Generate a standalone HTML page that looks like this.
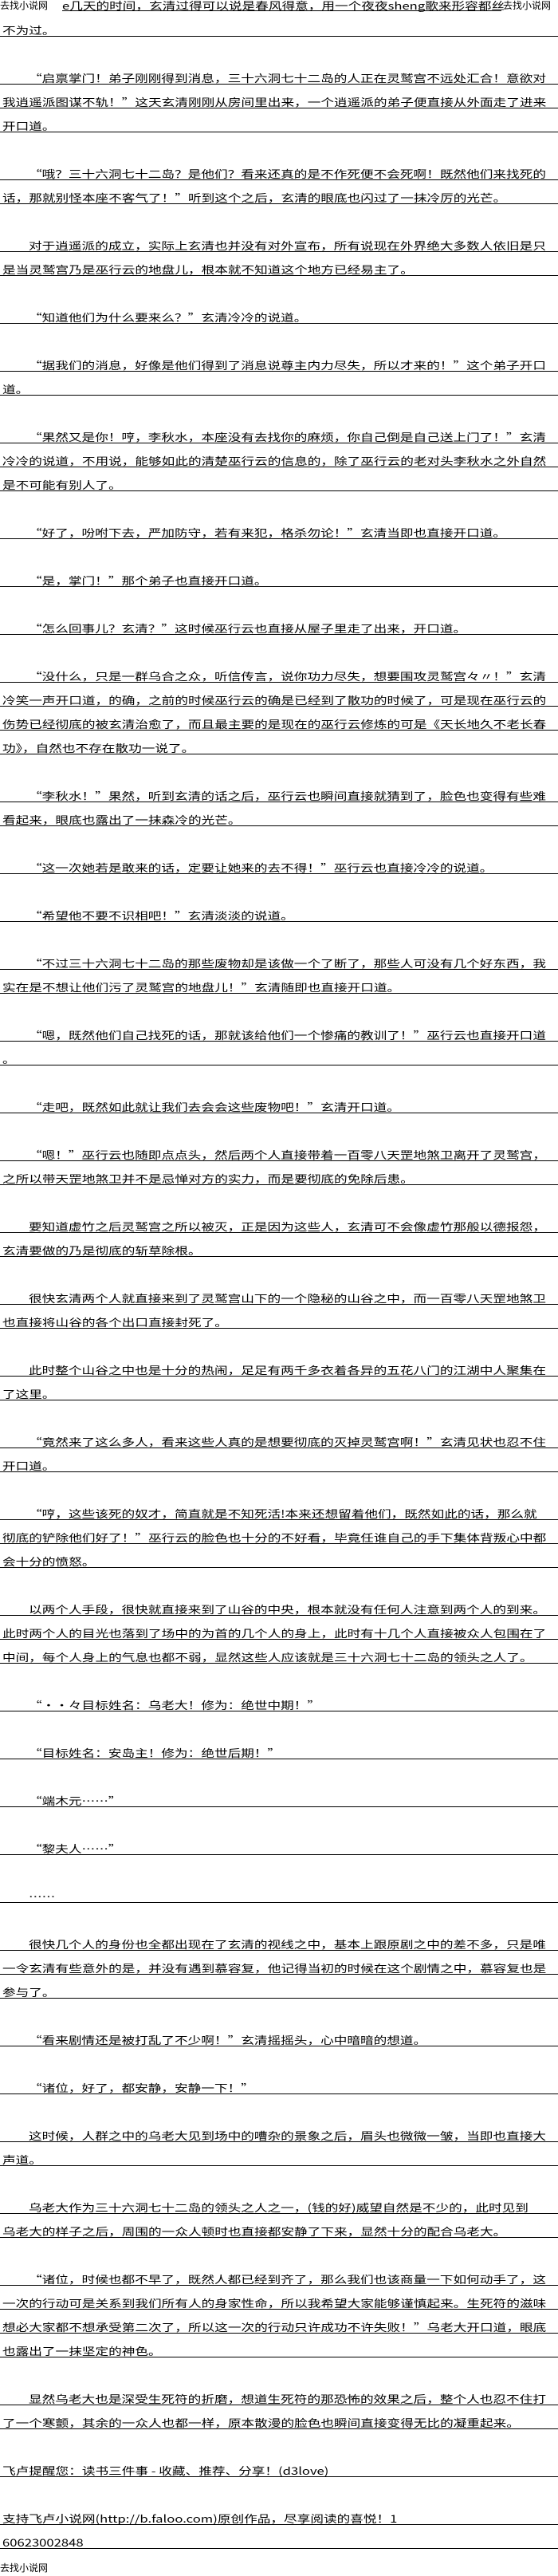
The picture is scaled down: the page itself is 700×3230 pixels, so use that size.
<!DOCTYPE html>
<html><head><meta charset="utf-8">
<style>
html,body{margin:0;padding:0;background:#fff;}
body{width:700px;height:3230px;position:relative;overflow:hidden;font-family:"Noto Sans CJK SC","WenQuanYi Zen Hei",sans-serif;color:#000;}
.r{position:absolute;left:0;width:700px;height:14px;border-bottom:1px solid #000;}
.r span{position:absolute;bottom:1px;left:3px;font-size:13px;line-height:13px;white-space:nowrap;transform:scaleX(1.28);transform-origin:left bottom;}
.r span.i{left:36px;}
.top{position:absolute;top:0;height:15px;font-size:12px;line-height:14px;white-space:nowrap;}
</style></head><body>
<div class="top" style="left:0">去找小说网</div>
<div class="top" style="left:78px;width:551px;border-bottom:1px solid #000;height:13px;"><span style="display:inline-block;font-size:13px;transform:scaleX(1.28);transform-origin:left;">e几天的时间，玄清过得可以说是春风得意，用一个夜夜sheng歌来形容都丝</span></div>
<div class="top" style="left:631px">去找小说网</div>

<div class="r" style="top:31px"><span>不为过。</span></div>
<div class="r" style="top:91px"><span class="i">“启禀掌门！弟子刚刚得到消息，三十六洞七十二岛的人正在灵鹫宫不远处汇合！意欲对</span></div>
<div class="r" style="top:121px"><span>我逍遥派图谋不轨！”这天玄清刚刚从房间里出来，一个逍遥派的弟子便直接从外面走了进来</span></div>
<div class="r" style="top:151px"><span>开口道。</span></div>
<div class="r" style="top:211px"><span class="i">“哦？三十六洞七十二岛？是他们？看来还真的是不作死便不会死啊！既然他们来找死的</span></div>
<div class="r" style="top:241px"><span>话，那就别怪本座不客气了！”听到这个之后，玄清的眼底也闪过了一抹冷厉的光芒。</span></div>
<div class="r" style="top:301px"><span class="i">对于逍遥派的成立，实际上玄清也并没有对外宣布，所有说现在外界绝大多数人依旧是只</span></div>
<div class="r" style="top:331px"><span>是当灵鹫宫乃是巫行云的地盘儿，根本就不知道这个地方已经易主了。</span></div>
<div class="r" style="top:391px"><span class="i">“知道他们为什么要来么？”玄清冷冷的说道。</span></div>
<div class="r" style="top:451px"><span class="i">“据我们的消息，好像是他们得到了消息说尊主内力尽失，所以才来的！”这个弟子开口</span></div>
<div class="r" style="top:481px"><span>道。</span></div>
<div class="r" style="top:541px"><span class="i">“果然又是你！哼，李秋水，本座没有去找你的麻烦，你自己倒是自己送上门了！”玄清</span></div>
<div class="r" style="top:571px"><span>冷冷的说道，不用说，能够如此的清楚巫行云的信息的，除了巫行云的老对头李秋水之外自然</span></div>
<div class="r" style="top:601px"><span>是不可能有别人了。</span></div>
<div class="r" style="top:661px"><span class="i">“好了，吩咐下去，严加防守，若有来犯，格杀勿论！”玄清当即也直接开口道。</span></div>
<div class="r" style="top:721px"><span class="i">“是，掌门！”那个弟子也直接开口道。</span></div>
<div class="r" style="top:781px"><span class="i">“怎么回事儿？玄清？”这时候巫行云也直接从屋子里走了出来，开口道。</span></div>
<div class="r" style="top:841px"><span class="i">“没什么，只是一群乌合之众，听信传言，说你功力尽失，想要围攻灵鹫宫々〃！”玄清</span></div>
<div class="r" style="top:871px"><span>冷笑一声开口道，的确，之前的时候巫行云的确是已经到了散功的时候了，可是现在巫行云的</span></div>
<div class="r" style="top:901px"><span>伤势已经彻底的被玄清治愈了，而且最主要的是现在的巫行云修炼的可是《天长地久不老长春</span></div>
<div class="r" style="top:931px"><span>功》，自然也不存在散功一说了。</span></div>
<div class="r" style="top:991px"><span class="i">“李秋水！”果然，听到玄清的话之后，巫行云也瞬间直接就猜到了，脸色也变得有些难</span></div>
<div class="r" style="top:1021px"><span>看起来，眼底也露出了一抹森冷的光芒。</span></div>
<div class="r" style="top:1081px"><span class="i">“这一次她若是敢来的话，定要让她来的去不得！”巫行云也直接冷冷的说道。</span></div>
<div class="r" style="top:1141px"><span class="i">“希望他不要不识相吧！”玄清淡淡的说道。</span></div>
<div class="r" style="top:1201px"><span class="i">“不过三十六洞七十二岛的那些废物却是该做一个了断了，那些人可没有几个好东西，我</span></div>
<div class="r" style="top:1231px"><span>实在是不想让他们污了灵鹫宫的地盘儿！”玄清随即也直接开口道。</span></div>
<div class="r" style="top:1291px"><span class="i">“嗯，既然他们自己找死的话，那就该给他们一个惨痛的教训了！”巫行云也直接开口道</span></div>
<div class="r" style="top:1321px"><span>。</span></div>
<div class="r" style="top:1381px"><span class="i">“走吧，既然如此就让我们去会会这些废物吧！”玄清开口道。</span></div>
<div class="r" style="top:1441px"><span class="i">“嗯！”巫行云也随即点点头，然后两个人直接带着一百零八天罡地煞卫离开了灵鹫宫，</span></div>
<div class="r" style="top:1471px"><span>之所以带天罡地煞卫并不是忌惮对方的实力，而是要彻底的免除后患。</span></div>
<div class="r" style="top:1531px"><span class="i">要知道虚竹之后灵鹫宫之所以被灭，正是因为这些人，玄清可不会像虚竹那般以德报怨，</span></div>
<div class="r" style="top:1561px"><span>玄清要做的乃是彻底的斩草除根。</span></div>
<div class="r" style="top:1621px"><span class="i">很快玄清两个人就直接来到了灵鹫宫山下的一个隐秘的山谷之中，而一百零八天罡地煞卫</span></div>
<div class="r" style="top:1651px"><span>也直接将山谷的各个出口直接封死了。</span></div>
<div class="r" style="top:1711px"><span class="i">此时整个山谷之中也是十分的热闹，足足有两千多衣着各异的五花八门的江湖中人聚集在</span></div>
<div class="r" style="top:1741px"><span>了这里。</span></div>
<div class="r" style="top:1801px"><span class="i">“竟然来了这么多人，看来这些人真的是想要彻底的灭掉灵鹫宫啊！”玄清见状也忍不住</span></div>
<div class="r" style="top:1831px"><span>开口道。</span></div>
<div class="r" style="top:1891px"><span class="i">“哼，这些该死的奴才，简直就是不知死活!本来还想留着他们，既然如此的话，那么就</span></div>
<div class="r" style="top:1921px"><span>彻底的铲除他们好了！”巫行云的脸色也十分的不好看，毕竟任谁自己的手下集体背叛心中都</span></div>
<div class="r" style="top:1951px"><span>会十分的愤怒。</span></div>
<div class="r" style="top:2011px"><span class="i">以两个人手段，很快就直接来到了山谷的中央，根本就没有任何人注意到两个人的到来。</span></div>
<div class="r" style="top:2041px"><span>此时两个人的目光也落到了场中的为首的几个人的身上，此时有十几个人直接被众人包围在了</span></div>
<div class="r" style="top:2071px"><span>中间，每个人身上的气息也都不弱，显然这些人应该就是三十六洞七十二岛的领头之人了。</span></div>
<div class="r" style="top:2131px"><span class="i">“··々目标姓名：乌老大！修为：绝世中期！”</span></div>
<div class="r" style="top:2191px"><span class="i">“目标姓名：安岛主！修为：绝世后期！”</span></div>
<div class="r" style="top:2251px"><span class="i">“端木元……”</span></div>
<div class="r" style="top:2311px"><span class="i">“黎夫人……”</span></div>
<div class="r" style="top:2371px"><span class="i">……</span></div>
<div class="r" style="top:2431px"><span class="i">很快几个人的身份也全都出现在了玄清的视线之中，基本上跟原剧之中的差不多，只是唯</span></div>
<div class="r" style="top:2461px"><span>一令玄清有些意外的是，并没有遇到慕容复，他记得当初的时候在这个剧情之中，慕容复也是</span></div>
<div class="r" style="top:2491px"><span>参与了。</span></div>
<div class="r" style="top:2551px"><span class="i">“看来剧情还是被打乱了不少啊！”玄清摇摇头，心中暗暗的想道。</span></div>
<div class="r" style="top:2611px"><span class="i">“诸位，好了，都安静，安静一下！”</span></div>
<div class="r" style="top:2671px"><span class="i">这时候，人群之中的乌老大见到场中的嘈杂的景象之后，眉头也微微一皱，当即也直接大</span></div>
<div class="r" style="top:2701px"><span>声道。</span></div>
<div class="r" style="top:2761px"><span class="i">乌老大作为三十六洞七十二岛的领头之人之一，(钱的好)威望自然是不少的，此时见到</span></div>
<div class="r" style="top:2791px"><span>乌老大的样子之后，周围的一众人顿时也直接都安静了下来，显然十分的配合乌老大。</span></div>
<div class="r" style="top:2851px"><span class="i">“诸位，时候也都不早了，既然人都已经到齐了，那么我们也该商量一下如何动手了，这</span></div>
<div class="r" style="top:2881px"><span>一次的行动可是关系到我们所有人的身家性命，所以我希望大家能够谨慎起来。生死符的滋味</span></div>
<div class="r" style="top:2911px"><span>想必大家都不想承受第二次了，所以这一次的行动只许成功不许失败！”乌老大开口道，眼底</span></div>
<div class="r" style="top:2941px"><span>也露出了一抹坚定的神色。</span></div>
<div class="r" style="top:3001px"><span class="i">显然乌老大也是深受生死符的折磨，想道生死符的那恐怖的效果之后，整个人也忍不住打</span></div>
<div class="r" style="top:3031px"><span>了一个寒颤，其余的一众人也都一样，原本散漫的脸色也瞬间直接变得无比的凝重起来。</span></div>
<div class="r" style="top:3091px"><span>飞卢提醒您：读书三件事 - 收藏、推荐、分享！(d3love)</span></div>
<div class="r" style="top:3151px"><span>支持飞卢小说网(http://b.faloo.com)原创作品，尽享阅读的喜悦！1</span></div>
<div class="r" style="top:3181px"><span>60623002848</span></div>
<div class="top" style="left:0;top:3213px">去找小说网</div>
</body></html>
